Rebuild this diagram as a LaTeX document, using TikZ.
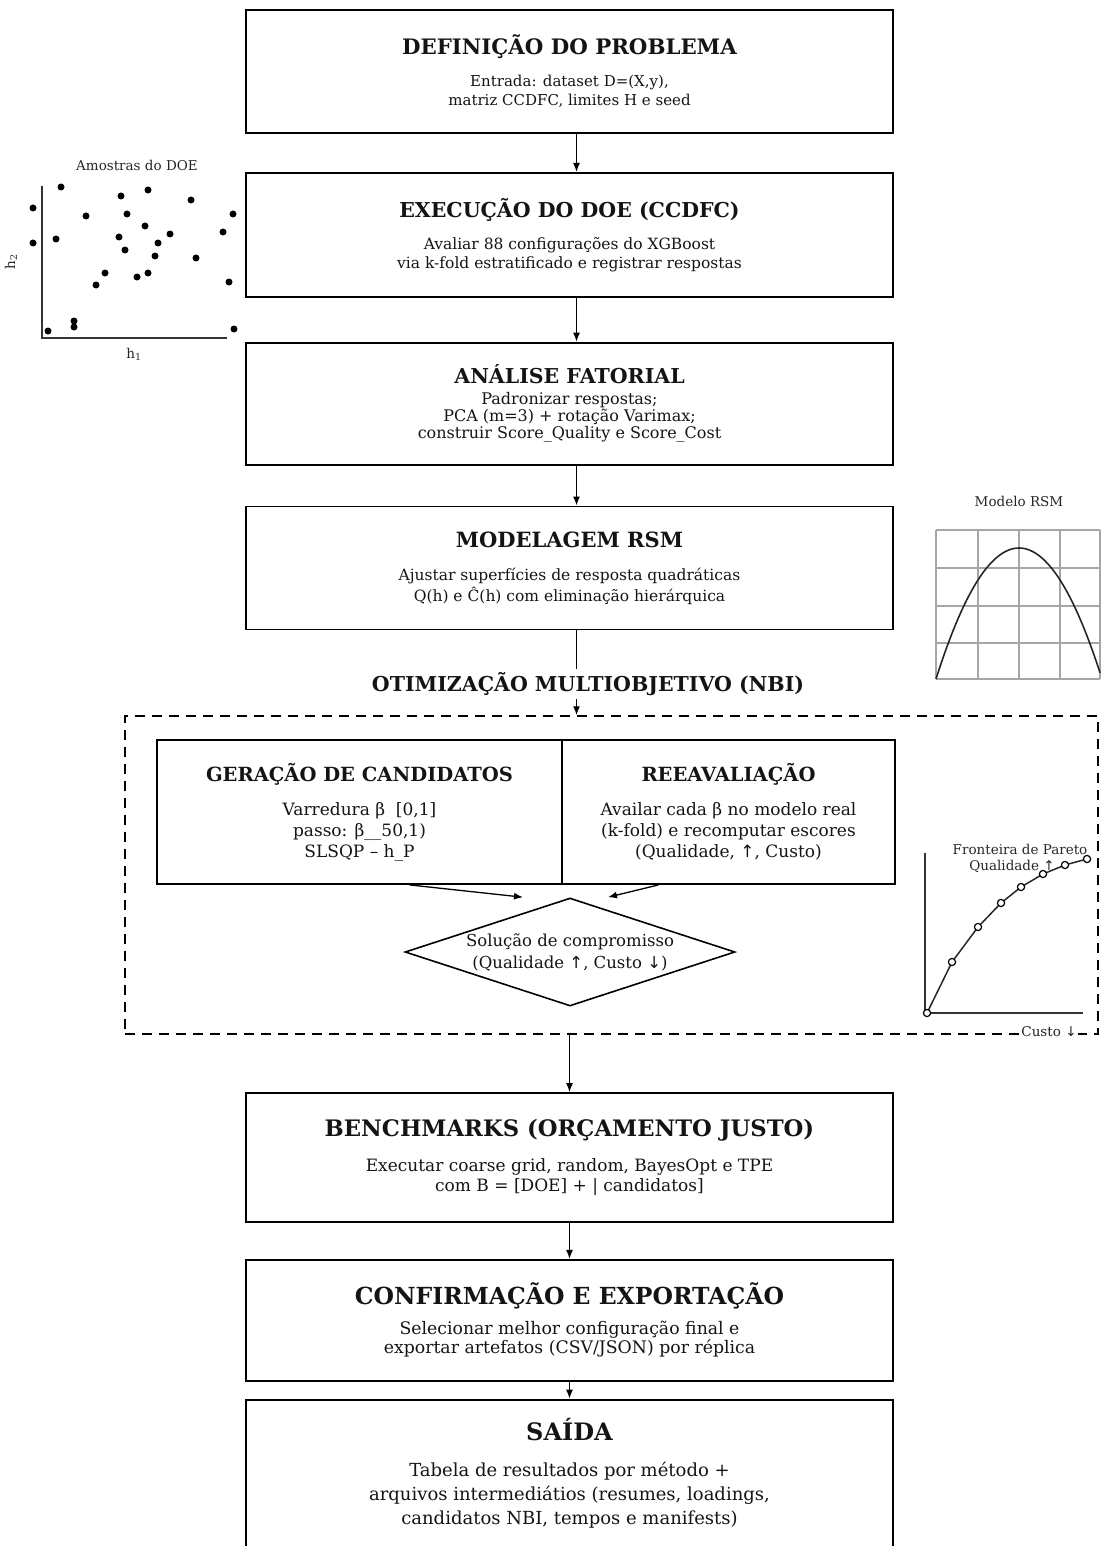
\documentclass[tikz,border=0pt]{standalone}
\usepackage{fontspec}
\setmainfont{DejaVu Serif}
\newfontfamily\arrowfont{DejaVu Sans}
\usetikzlibrary{shapes.geometric,arrows.meta,positioning}

\newcommand{\stagetitle}[2]{{\fontsize{#1}{#1}\selectfont\bfseries #2}}
\newcommand{\up}{{\arrowfont ↑}}
\newcommand{\down}{{\arrowfont ↓}}

\tikzset{
  stage/.style={draw, rectangle, line width=1.8pt, minimum width=647pt, align=center, inner sep=0pt, text=black!92},
  subbox/.style={draw, rectangle, line width=1.8pt, minimum height=144pt, align=center, inner sep=0pt, text=black!92, font=\fontsize{17}{21}\selectfont},
  groupbox/.style={draw, rectangle, line width=1.5pt, dash pattern=on 10pt off 7pt},
  plotlbl/.style={font=\fontsize{13.5}{15}\selectfont, text=black!85, inner sep=1pt},
  axis/.style={line width=1.6pt, black!80},
  flow/.style={->, line width=1.3pt},
}

\begin{document}
\begin{tikzpicture}[x=1pt, y=-1pt, >={Latex[length=9pt,width=7pt]}]
\useasboundingbox (0,0) rectangle (1100,1546);

% Main stages
\node[stage, minimum height=123pt, font=\fontsize{15}{19}\selectfont] (prob) at (569.5,71.5)
  {\stagetitle{21.3}{DEFINIÇÃO DO PROBLEMA}\\[13pt] Entrada: dataset D=(X,y),\\ matriz CCDFC, limites H e seed};
\node[stage, minimum height=124pt, below=38pt of prob, font=\fontsize{15.5}{19}\selectfont] (doe)
  {\stagetitle{20.5}{EXECUÇÃO DO DOE (CCDFC)}\\[13pt] Avaliar 88 configurações do XGBoost\\ via k-fold estratificado e registrar respostas};
\node[stage, minimum height=122pt, below=44pt of doe, font=\fontsize{16}{17}\selectfont] (fat)
  {\stagetitle{20.5}{ANÁLISE FATORIAL}\\[4pt] Padronizar respostas;\\ PCA (m=3) + rotação Varimax;\\ construir Score\_Quality e Score\_Cost};
\node[stage, minimum height=123pt, below=40pt of fat, font=\fontsize{15.5}{21}\selectfont] (rsm)
  {\stagetitle{21}{MODELAGEM RSM}\\[12pt] Ajustar superfícies de resposta quadráticas\\ Q(h) e Ĉ(h) com eliminação hierárquica};

\node[font=\fontsize{20.5}{20.5}\selectfont\bfseries, text=black!92] (nbi) at (588,684) {OTIMIZAÇÃO MULTIOBJETIVO (NBI)};

% NBI group
\node[groupbox, minimum width=973pt, minimum height=318pt] (nbibox) at (611.5,875) {};
\node[subbox, minimum width=405pt] (gen) at (359.5,812)
  {\stagetitle{19.5}{GERAÇÃO DE CANDIDATOS}\\[13pt] Varredura β ~[0,1]\\ passo: β\_\_50,1)\\ SLSQP – h\_P};
\node[subbox, minimum width=333pt, right=-1.8pt of gen] (reav)
  {\stagetitle{19.5}{REEAVALIAÇÃO}\\[13pt] Availar cada β no modelo real\\ (k-fold) e recomputar escores\\ (Qualidade, \up, Custo)};
\node[draw, diamond, line width=1.6pt, aspect=3, inner sep=0pt, minimum width=330pt, minimum height=108pt,
  align=center, font=\fontsize{16.5}{22}\selectfont, text=black!92] (sol) at (570,952)
  {Solução de compromisso\\ (Qualidade \up, Custo \down)};

\node[stage, minimum height=129pt, font=\fontsize{17}{20.5}\selectfont] (bench) at (569.5,1157.5)
  {\stagetitle{22.7}{BENCHMARKS (ORÇAMENTO JUSTO)}\\[14pt] Executar coarse grid, random, BayesOpt e TPE\\ com B = [DOE] + | candidatos]};
\node[stage, minimum height=121pt, below=36pt of bench, font=\fontsize{17.3}{19}\selectfont] (conf)
  {\stagetitle{23.5}{CONFIRMAÇÃO E EXPORTAÇÃO}\\[11pt] Selecionar melhor configuração final e\\ exportar artefatos (CSV/JSON) por réplica};
\node[stage, minimum height=148pt, below=17pt of conf, font=\fontsize{18}{24}\selectfont] (out)
  {\stagetitle{24}{SAÍDA}\\[12pt] Tabela de resultados por método +\\ arquivos intermediátios (resumes, loadings,\\ candidatos NBI, tempos e manifests)};

% Arrows
\draw[flow] ([xshift=7pt]prob.south) -- ([xshift=7pt]doe.north);
\draw[flow] ([xshift=7pt]doe.south) -- ([xshift=7pt]fat.north);
\draw[flow] ([xshift=7pt]fat.south) -- ([xshift=7pt]rsm.north);
\draw[line width=1.3pt] ([xshift=7pt]rsm.south) -- ([xshift=7pt]rsm.south |- nbi.north);
\draw[flow] ([xshift=7pt]rsm.south |- nbi.south) -- ([xshift=7pt]rsm.south |- nbibox.north);
\draw[flow] ([xshift=50pt]gen.south) -- ([xshift=-47pt]sol.north);
\draw[flow] ([xshift=-70pt]reav.south) -- ([xshift=38pt]sol.north);
\draw[flow] (nbibox.south -| bench.north) -- (bench.north);
\draw[flow] (bench.south) -- (conf.north);
\draw[flow] (conf.south) -- (out.north);

% DOE samples
\node[plotlbl] (doettl) at (137,165) {Amostras do DOE};
\draw[axis] (42,186) -- (42,338) -- (227,338);
\node[plotlbl, rotate=90] (hy) at (11,262) {h\textsubscript{2}};
\node[plotlbl] (hx) at (134,354) {h\textsubscript{1}};
\foreach \px/\py in {61/187, 33/208, 33/243, 56/239, 86/216, 121/196, 148/190, 191/200, 233/214,
  127/214, 145/226, 119/237, 125/250, 158/243, 170/234, 155/256, 196/258, 223/232,
  105/273, 96/285, 137/277, 148/273, 229/282, 74/321, 74/327, 48/331, 234/329}
  \fill (\px,\py) circle (3.5pt);

% RSM model
\node[plotlbl] (rsmttl) at (1019,501) {Modelo RSM};
\foreach \gx in {936,978,1019,1060,1100}
  \draw[black!35, line width=1.2pt] (\gx,530) -- (\gx,679);
\foreach \gy in {530,568,606,643,679}
  \draw[black!35, line width=1.2pt] (936,\gy) -- (1100,\gy);
\draw[line width=1.6pt, black!85] plot[domain=936:1100, samples=60, smooth]
  (\x, {548+131*((\x-1019)/83)*((\x-1019)/83)});

% Pareto front
\draw[axis] (925,853) -- (925,1013) -- (1083,1013);
\draw[line width=1.5pt, black!85] (927,1013) -- (952,962) -- (978,927) -- (1001,903) -- (1021,887)
  -- (1043,874) -- (1065,865) -- (1087,859);
\foreach \px/\py in {927/1013, 952/962, 978/927, 1001/903, 1021/887, 1043/874, 1065/865, 1087/859}
  \draw[line width=1.2pt, fill=white] (\px,\py) circle (3.6pt);
\node[plotlbl] (parttl) at (1020,849) {Fronteira de Pareto};
\node[plotlbl] (parq) at (1012,866) {Qualidade \up};
\node[plotlbl, fill=white] (parc) at (1049,1032) {Custo \down};
\end{tikzpicture}
\end{document}
